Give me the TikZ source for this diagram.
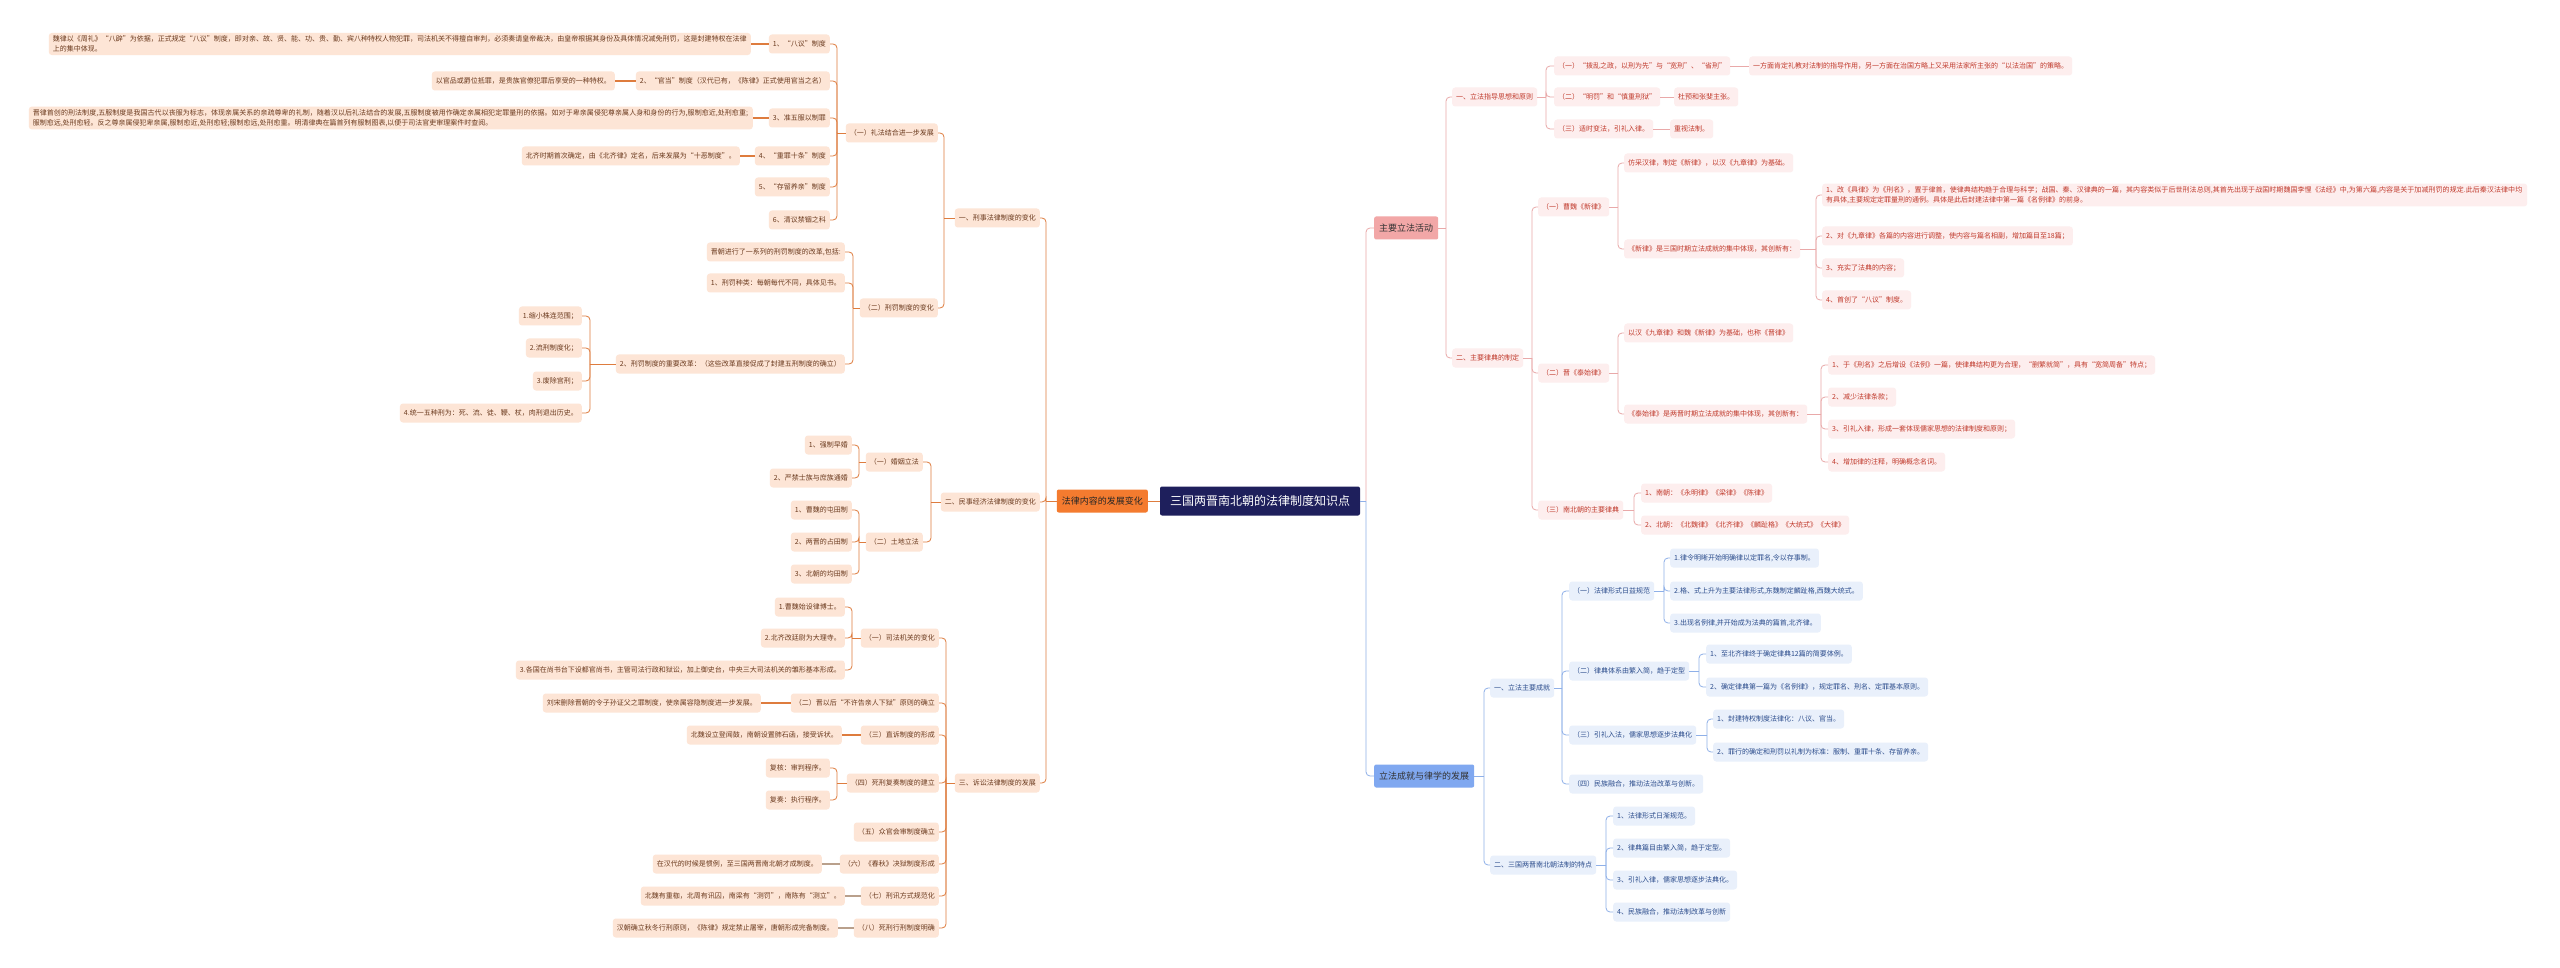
\documentclass[tikz,border=0pt]{standalone}
\usepackage{fontspec}
\setmainfont{Noto Sans CJK SC}
\XeTeXlinebreaklocale "zh"
\XeTeXlinebreakskip=0pt plus 1pt
\usetikzlibrary{positioning}
\definecolor{navy}{HTML}{1E1F5C}
\definecolor{orgM}{HTML}{F47B2F}
\definecolor{orgL}{HTML}{FDE5D6}
\definecolor{orgT}{HTML}{6B3A1E}
\definecolor{orgLn}{HTML}{DE7C3E}
\definecolor{orgGr}{HTML}{B9A08C}
\definecolor{pnkM}{HTML}{F2A7A7}
\definecolor{pnkL}{HTML}{FDEEEE}
\definecolor{pnkT}{HTML}{C0392B}
\definecolor{pnkLn}{HTML}{E9A9A9}
\definecolor{bluM}{HTML}{80A8F0}
\definecolor{bluL}{HTML}{E9F0FB}
\definecolor{bluT}{HTML}{2B4C8C}
\definecolor{bluLn}{HTML}{8FB0E8}
\newcommand{\sm}{\fontsize{7}{9.5}\selectfont}
% tree branches: style, parent, x of the spine, children
\newcommand{\brL}[4]{%
  \draw[#1] (#2.west) -- (#3,0 |- #2.west);
  \foreach \c in {#4} \draw[#1, rounded corners=4pt] (#3,0 |- #2.west) |- (\c.east);}
\newcommand{\brR}[4]{%
  \draw[#1] (#2.east) -- (#3,0 |- #2.east);
  \foreach \c in {#4} \draw[#1, rounded corners=4pt] (#3,0 |- #2.east) |- (\c.west);}

\begin{document}
\begin{tikzpicture}[
  x=1pt, y=-1pt,
  ctr/.style={fill=navy, text=white, rounded corners=2pt, minimum width=200pt, minimum height=29pt, font=\fontsize{12}{14}\selectfont},
  mainO/.style={fill=orgM, text=black!85, rounded corners=2pt, minimum height=23pt, inner xsep=5pt, font=\fontsize{9}{11}\selectfont, anchor=east},
  mainP/.style={fill=pnkM, text=black!80, rounded corners=2pt, minimum height=23pt, inner xsep=5pt, font=\fontsize{9}{11}\selectfont, anchor=west},
  mainB/.style={fill=bluM, text=black!80, rounded corners=2pt, minimum height=23pt, inner xsep=5pt, font=\fontsize{9}{11}\selectfont, anchor=west},
  bO/.style={fill=orgL, text=orgT, rounded corners=3pt, inner xsep=4pt, inner ysep=3pt, minimum height=19pt, font=\sm, anchor=east, align=left},
  bP/.style={fill=pnkL, text=pnkT, rounded corners=3pt, inner xsep=4pt, inner ysep=3pt, minimum height=19pt, font=\sm, anchor=west, align=left},
  bB/.style={fill=bluL, text=bluT, rounded corners=3pt, inner xsep=4pt, inner ysep=3pt, minimum height=19pt, font=\sm, anchor=west, align=left},
  lnO/.style={draw=orgLn, line width=0.8pt},
  lnP/.style={draw=pnkLn, line width=0.8pt},
  lnB/.style={draw=bluLn, line width=0.8pt},
  lfO/.style={draw=orgLn, line width=1.6pt},
  lfG/.style={draw=orgGr, line width=1.6pt},
  lfP/.style={draw=pnkLn, line width=0.8pt}
]
\useasboundingbox (0,0) rectangle (2560,968);
\fill[white] (0,0) rectangle (2560,968);

% centre and main branches
\node[ctr] (ctr) at (1260,501) {三国两晋南北朝的法律制度知识点};
\node[mainO] (oM) at (1148,501) {法律内容的发展变化};
\node[mainP] (pM) at (1374,228) {主要立法活动};
\node[mainB] (bM) at (1374,776) {立法成就与律学的发展};

% ---- left: 法律内容的发展变化
\node[bO] (A) at (1040,218) {一、刑事法律制度的变化};
\node[bO] (B) at (1040,502) {二、民事经济法律制度的变化};
\node[bO] (C) at (1040,783) {三、诉讼法律制度的发展};

\node[bO] (a1) at (938,133) {（一）礼法结合进一步发展};
\node[bO] (a2) at (938,308) {（二）刑罚制度的变化};

\node[bO] (a11) at (830,44) {1、“八议”制度};
\node[bO, text width=694pt] (a11t) at (751,44) {魏律以《周礼》“八辟”为依据，正式规定“八议”制度，即对亲、故、贤、能、功、贵、勤、宾八种特权人物犯罪，司法机关不得擅自审判，必须奏请皇帝裁决，由皇帝根据其身份及具体情况减免刑罚，这是封建特权在法律上的集中体现。};
\node[bO] (a12) at (830,81) {2、“官当”制度（汉代已有，《陈律》正式使用官当之名）};
\node[bO] (a12t) at (615,81) {以官品或爵位抵罪，是贵族官僚犯罪后享受的一种特权。};
\node[bO] (a13) at (830,118) {3、准五服以制罪};
\node[bO, text width=716pt] (a13t) at (753,118) {晋律首创的刑法制度,五服制度是我国古代以丧服为标志，体现亲属关系的亲疏尊卑的礼制，随着汉以后礼法结合的发展,五服制度被用作确定亲属相犯定罪量刑的依据。如对于卑亲属侵犯尊亲属人身和身份的行为,服制愈近,处刑愈重;服制愈远,处刑愈轻。反之尊亲属侵犯卑亲属,服制愈近,处刑愈轻;服制愈远,处刑愈重。明清律典在篇首列有服制图表,以便于司法官吏审理案件时查阅。};
\node[bO] (a14) at (830,156) {4、“重罪十条”制度};
\node[bO] (a14t) at (740,156) {北齐时期首次确定，由《北齐律》定名，后来发展为“十恶制度”。};
\node[bO] (a15) at (830,187) {5、“存留养亲”制度};
\node[bO] (a16) at (830,220) {6、清议禁锢之科};

\node[bO] (a21) at (845,252) {晋朝进行了一系列的刑罚制度的改革,包括:};
\node[bO] (a22) at (845,283) {1、刑罚种类：每朝每代不同，具体见书。};
\node[bO] (a23) at (845,364) {2、刑罚制度的重要改革：（这些改革直接促成了封建五刑制度的确立）};
\node[bO] (a231) at (582,316) {1.缩小株连范围；};
\node[bO] (a232) at (582,348) {2.流刑制度化；};
\node[bO] (a233) at (582,381) {3.废除宫刑；};
\node[bO] (a234) at (582,413) {4.统一五种刑为：死、流、徒、鞭、杖，肉刑退出历史。};

\node[bO] (b1) at (923,462) {（一）婚姻立法};
\node[bO] (b2) at (923,542) {（二）土地立法};
\node[bO] (b11) at (852,445) {1、强制早婚};
\node[bO] (b12) at (852,478) {2、严禁士族与庶族通婚};
\node[bO] (b21) at (852,510) {1、曹魏的屯田制};
\node[bO] (b22) at (852,542) {2、两晋的占田制};
\node[bO] (b23) at (852,574) {3、北朝的均田制};

\node[bO] (c1) at (939,638) {（一）司法机关的变化};
\node[bO] (c2) at (939,703) {（二）晋以后“不许告亲人下狱”原则的确立};
\node[bO] (c3) at (939,735) {（三）直诉制度的形成};
\node[bO] (c4) at (939,783) {（四）死刑复奏制度的建立};
\node[bO] (c5) at (939,832) {（五）众官会审制度确立};
\node[bO] (c6) at (939,864) {（六）《春秋》决狱制度形成};
\node[bO] (c7) at (939,896) {（七）刑讯方式规范化};
\node[bO] (c8) at (939,928) {（八）死刑行刑制度明确};
\node[bO] (c11) at (845,607) {1.曹魏始设律博士。};
\node[bO] (c12) at (845,638) {2.北齐改廷尉为大理寺。};
\node[bO] (c13) at (845,670) {3.各国在尚书台下设都官尚书，主管司法行政和狱讼，加上御史台，中央三大司法机关的雏形基本形成。};
\node[bO] (c2t) at (761,703) {刘宋删除晋朝的令子孙证父之罪制度，使亲属容隐制度进一步发展。};
\node[bO] (c3t) at (842,735) {北魏设立登闻鼓，南朝设置肺石函，接受诉状。};
\node[bO] (c41) at (830,768) {复核：审判程序。};
\node[bO] (c42) at (830,800) {复奏：执行程序。};
\node[bO] (c6t) at (822,864) {在汉代的时候是惯例，至三国两晋南北朝才成制度。};
\node[bO] (c7t) at (845,896) {北魏有重枷，北周有讯囚，南梁有“测罚”，南陈有“测立”。};
\node[bO] (c8t) at (838,928) {汉朝确立秋冬行刑原则，《陈律》规定禁止屠宰，唐朝形成完备制度。};

% ---- right: 主要立法活动
\node[bP] (R1) at (1452,97) {一、立法指导思想和原则};
\node[bP] (R2) at (1452,358) {二、主要律典的制定};
\node[bP] (r11) at (1554,66) {（一）“拨乱之政，以刑为先”与“宽刑”、“省刑”};
\node[bP] (r11t) at (1749,66) {一方面肯定礼教对法制的指导作用，另一方面在治国方略上又采用法家所主张的“以法治国”的策略。};
\node[bP] (r12) at (1554,97) {（二）“明罚”和“慎重刑狱”};
\node[bP] (r12t) at (1674,97) {杜预和张斐主张。};
\node[bP] (r13) at (1554,129) {（三）适时变法，引礼入律。};
\node[bP] (r13t) at (1670,129) {重视法制。};

\node[bP] (r21) at (1538,207) {（一）曹魏《新律》};
\node[bP] (r22) at (1538,373) {（二）晋《泰始律》};
\node[bP] (r23) at (1538,510) {（三）南北朝的主要律典};
\node[bP] (r211) at (1624,163) {仿采汉律，制定《新律》，以汉《九章律》为基础。};
\node[bP] (r212) at (1624,249) {《新律》是三国时期立法成就的集中体现，其创新有：};
\node[bP, text width=697pt] (r2121) at (1822,195) {1、改《具律》为《刑名》，置于律首，使律典结构趋于合理与科学；战国、秦、汉律典的一篇，其内容类似于后世刑法总则,其首先出现于战国时期魏国李悝《法经》中,为第六篇,内容是关于加减刑罚的规定.此后秦汉法律中均有具体,主要规定定罪量刑的通例。具体是此后封建法律中第一篇《名例律》的前身。};
\node[bP] (r2122) at (1822,236) {2、对《九章律》各篇的内容进行调整，使内容与篇名相副，增加篇目至18篇；};
\node[bP] (r2123) at (1822,268) {3、充实了法典的内容；};
\node[bP] (r2124) at (1822,300) {4、首创了“八议”制度。};
\node[bP] (r221) at (1624,333) {以汉《九章律》和魏《新律》为基础，也称《晋律》};
\node[bP] (r222) at (1624,414) {《泰始律》是两晋时期立法成就的集中体现，其创新有：};
\node[bP] (r2221) at (1828,365) {1、于《刑名》之后增设《法例》一篇，使律典结构更为合理，“删繁就简”，具有“宽简周备”特点；};
\node[bP] (r2222) at (1828,397) {2、减少法律条款；};
\node[bP] (r2223) at (1828,429) {3、引礼入律，形成一套体现儒家思想的法律制度和原则；};
\node[bP] (r2224) at (1828,462) {4、增加律的注释，明确概念名词。};
\node[bP] (r231) at (1641,493) {1、南朝：《永明律》《梁律》《陈律》};
\node[bP] (r232) at (1641,525) {2、北朝：《北魏律》《北齐律》《麟趾格》《大统式》《大律》};

% ---- right: 立法成就与律学的发展
\node[bB] (R3) at (1490,688) {一、立法主要成就};
\node[bB] (R4) at (1490,865) {二、三国两晋南北朝法制的特点};
\node[bB] (r31) at (1569,591) {（一）法律形式日益规范};
\node[bB] (r32) at (1569,671) {（二）律典体系由繁入简，趋于定型};
\node[bB] (r33) at (1569,735) {（三）引礼入法，儒家思想逐步法典化};
\node[bB] (r34) at (1569,784) {（四）民族融合，推动法治改革与创新。};
\node[bB] (r311) at (1670,558) {1.律令明晰开始明确律以定罪名,令以存事制。};
\node[bB] (r312) at (1670,591) {2.格、式上升为主要法律形式,东魏制定麟趾格,西魏大统式。};
\node[bB] (r313) at (1670,623) {3.出现名例律,并开始成为法典的篇首,北齐律。};
\node[bB] (r321) at (1706,654) {1、至北齐律终于确定律典12篇的简要体例。};
\node[bB] (r322) at (1706,687) {2、确定律典第一篇为《名例律》，规定罪名、刑名、定罪基本原则。};
\node[bB] (r331) at (1713,719) {1、封建特权制度法律化：八议、官当。};
\node[bB] (r332) at (1713,752) {2、罪行的确定和刑罚以礼制为标准：服制、重罪十条、存留养亲。};
\node[bB] (r41) at (1613,816) {1、法律形式日渐规范。};
\node[bB] (r42) at (1613,848) {2、律典篇目由繁入简，趋于定型。};
\node[bB] (r43) at (1613,880) {3、引礼入律，儒家思想逐步法典化。};
\node[bB] (r44) at (1613,912) {4、民族融合，推动法制改革与创新};

% connectors
\draw[lnO] (ctr.west) -- (oM.east);
\brR{lnP}{ctr}{1366}{pM}
\brR{lnB}{ctr}{1366}{bM}
\brL{lnO}{oM}{1046}{A,B,C}
\brL{lnO}{A}{944}{a1,a2}
\brL{lnO}{a1}{837}{a11,a12,a13,a14,a15,a16}
\brL{lnO}{a2}{853}{a21,a22,a23}
\brL{lnO}{a23}{590}{a231,a232,a233,a234}
\brL{lnO}{B}{931}{b1,b2}
\brL{lnO}{b1}{859}{b11,b12}
\brL{lnO}{b2}{859}{b21,b22,b23}
\brL{lnO}{C}{946}{c1,c2,c3,c4,c5,c6,c7,c8}
\brL{lnO}{c1}{852}{c11,c12,c13}
\brL{lnO}{c4}{837}{c41,c42}
\foreach \p/\q in {a11/a11t,a12/a12t,a13/a13t,a14/a14t,c2/c2t,c3/c3t}
  \draw[lfO] (\p.west) -- (\q.east);
\foreach \p/\q in {c6/c6t,c7/c7t,c8/c8t}
  \draw[lfG] (\p.west) -- (\q.east);

\brR{lnP}{pM}{1446}{R1,R2}
\brR{lnP}{R1}{1546}{r11,r12,r13}
\brR{lnP}{R2}{1532}{r21,r22,r23}
\brR{lnP}{r21}{1618}{r211,r212}
\brR{lnP}{r212}{1816}{r2121,r2122,r2123,r2124}
\brR{lnP}{r22}{1618}{r221,r222}
\brR{lnP}{r222}{1821}{r2221,r2222,r2223,r2224}
\brR{lnP}{r23}{1634}{r231,r232}
\foreach \p/\q in {r11/r11t,r12/r12t,r13/r13t}
  \draw[lfP] (\p.east) -- (\q.west);

\brR{lnB}{bM}{1484}{R3,R4}
\brR{lnB}{R3}{1562}{r31,r32,r33,r34}
\brR{lnB}{r31}{1664}{r311,r312,r313}
\brR{lnB}{r32}{1699}{r321,r322}
\brR{lnB}{r33}{1707}{r331,r332}
\brR{lnB}{R4}{1606}{r41,r42,r43,r44}
\end{tikzpicture}
\end{document}
